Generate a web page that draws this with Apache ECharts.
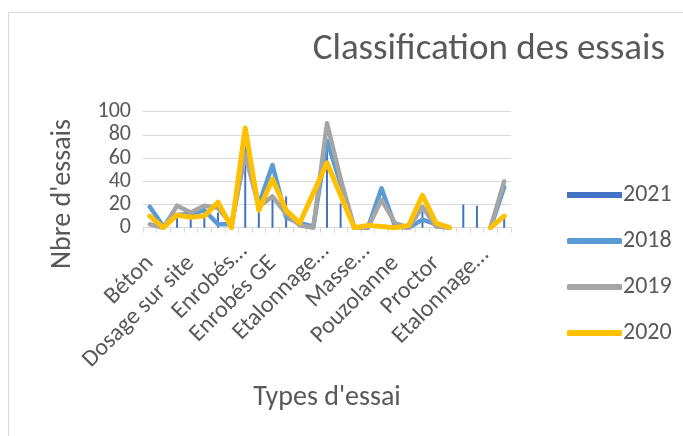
<!DOCTYPE html>
<html>
<head>
<meta charset="utf-8">
<script src="https://cdn.jsdelivr.net/npm/echarts@6/dist/echarts.min.js"></script>
<style>
html,body{margin:0;padding:0;background:#fff;}
#chart{width:683px;height:436px;}
</style>
</head>
<body>
<div id="chart"></div>
<script>
var categories = ["Béton","Cat. 2","Cat. 3","Dosage sur site","Cat. 5","Cat. 6","Enrobés…","Cat. 8","Cat. 9","Enrobés GE","Cat. 11","Cat. 12","Etalonnage…","Cat. 14","Cat. 15","Masse…","Cat. 17","Cat. 18","Pouzolanne","Cat. 20","Cat. 21","Proctor","Cat. 23","Cat. 24","Etalonnage… ","Cat. 26","Cat. 27"];
var values2021 = [0,0,9,11,10,13,0,62,25,28,27,0,0,72,21,0,0,0,0,0,14,0,0,20,19,0,9];
var values2018 = [18,1,11,12,15,3,3,68,20,54,9,4,1,75,38,0,0,34,1,0,7,3,0,null,null,0,35];
var values2019 = [3,0,19,13,19,17,3,63,18,27,12,2,0,90,42,0,0,24,4,0,18,1,0,null,null,0,40];
var values2020 = [10,0,11,9,10,22,0,86,15,42,15,4,30,56,28,0,2,1,0,2,28,4,0,null,null,0,10];
var seriesNames = ["2021","2018","2019","2020"];
var yTicks = {min:0, max:100, interval:20};
var titleText = 'Classification des essais';
var xAxisTitle = "Types d'essai";
var yAxisTitle = "Nbre d'essais";

var FONT = "Carlito, Lato, sans-serif";
var TXT = "#595959";
var chart = echarts.init(document.getElementById('chart'), null, {renderer:'canvas'});
function lineSeries(name, data, color, width){
  return {name:name, type:'line', data:data, symbol:'none', showSymbol:false, connectNulls:false,
    lineStyle:{color:color, width:width, cap:'round', join:'round'}, itemStyle:{color:color}, z:3};
}
var axisData = categories.map(function(c){
  if (c.indexOf('…') >= 0) return {value:c, textStyle:{padding:[0,-17,0,0]}};
  return c;
});
chart.setOption({
  animation:false,
  backgroundColor:'#fff',
  graphic:[
    {type:'rect', shape:{x:8.5,y:12.5,width:700,height:500}, style:{fill:'none', stroke:'#d9d9d9', lineWidth:1}, silent:true},
    {type:'text', x:63, y:194, rotation:Math.PI/2,
      style:{text:yAxisTitle, font:'28px ' + FONT, fill:TXT, align:'center', verticalAlign:'middle'}, silent:true}
  ],
  title:{text:titleText, right:13, top:26,
    textStyle:{fontFamily:FONT, fontSize:37, fontWeight:'normal', color:TXT}},
  legend:{orient:'vertical', left:562, top:178, itemGap:22, itemWidth:55, itemHeight:6,
    textStyle:{fontFamily:FONT, fontSize:24, color:TXT, padding:[0,0,0,-4]},
    data:[
      {name:'2021', icon:'rect', itemStyle:{color:'#4472C4'}},
      {name:'2018', icon:'roundRect', itemStyle:{color:'#5B9BD5'}},
      {name:'2019', icon:'roundRect', itemStyle:{color:'#A5A5A5'}},
      {name:'2020', icon:'roundRect', itemStyle:{color:'#FFC000'}}
    ]},
  grid:{left:143, right:172, top:111.7, bottom:208.3, containLabel:false},
  xAxis:{type:'category', data:axisData, boundaryGap:true,
    name:xAxisTitle, nameLocation:'middle', nameGap:156,
    nameTextStyle:{fontFamily:FONT, fontSize:28, color:TXT},
    axisLine:{lineStyle:{color:'#d9d9d9', width:1}},
    axisTick:{show:true, interval:0, length:5, lineStyle:{color:'#d9d9d9'}},
    axisLabel:{interval:2, rotate:45, fontFamily:FONT, fontSize:24, color:TXT, margin:32, hideOverlap:false}},
  yAxis:{type:'value', min:yTicks.min, max:yTicks.max, interval:yTicks.interval,
    axisLine:{show:false}, axisTick:{show:false},
    axisLabel:{fontFamily:FONT, fontSize:22, color:TXT, margin:12},
    splitLine:{lineStyle:{color:'#d9d9d9', width:1}}},
  series:[
    {name:seriesNames[0], type:'bar', data:values2021, barWidth:2, itemStyle:{color:'#4472C4'}, z:2},
    lineSeries(seriesNames[1], values2018, '#5B9BD5', 4.5),
    lineSeries(seriesNames[2], values2019, '#A5A5A5', 4.5),
    lineSeries(seriesNames[3], values2020, '#FFC000', 5)
  ]
});
</script>
</body>
</html>
